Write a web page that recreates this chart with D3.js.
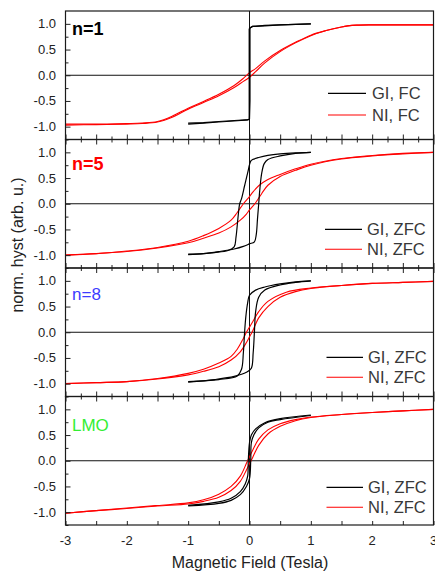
<!DOCTYPE html>
<html><head><meta charset="utf-8">
<script src="https://cdn.jsdelivr.net/npm/d3@7"></script>
<style>body{margin:0;background:#fff}svg{display:block}</style>
</head><body>
<svg id="c" width="435" height="575"></svg>
<script>
// ---------- data ----------
const panelLabels = ["n=1", "n=5", "n=8", "LMO"];
const legendGI = ["GI, FC", "GI, ZFC", "GI, ZFC", "GI, ZFC"];
const legendNI = ["NI, FC", "NI, ZFC", "NI, ZFC", "NI, ZFC"];
const yTickValues = [-1, -0.5, 0, 0.5, 1];
const xTickValues = [-3, -2, -1, 0, 1, 2, 3];
const xLabel = "Magnetic Field (Tesla)";
const yLabel = "norm. hyst (arb. u.)";

// n=1
const gi1Down = [[1,1.0],[0.75,0.99],[0.5,0.98],[0.25,0.96],[0.05,0.95],[0.02,0.93],[-0.005,0.9],[-0.005,-0.86],[-0.05,-0.87],[-0.25,-0.88],[-0.5,-0.9],[-0.75,-0.92],[-1,-0.93]];
const gi1Up = [[-1,-0.95],[-0.75,-0.93],[-0.5,-0.91],[-0.25,-0.89],[-0.03,-0.87],[0.0,-0.85],[0.008,-0.5],[0.008,0.92],[0.05,0.95],[0.25,0.97],[0.5,0.98],[0.75,0.99],[1,1.0]];
const ni1Down = [[3,0.98],[2.5,0.98],[2,0.98],[1.75,0.975],[1.6,0.96],[1.5,0.94],[1.25,0.87],[1,0.78],[0.75,0.64],[0.5,0.48],[0.25,0.28],[0.1,0.13],[0,0.05],[-0.1,-0.06],[-0.25,-0.2],[-0.5,-0.37],[-0.75,-0.51],[-1,-0.64],[-1.25,-0.79],[-1.5,-0.9],[-1.75,-0.93],[-2,-0.94],[-2.5,-0.95],[-3,-0.95]];
const ni1Up = [[-3,-0.97],[-2.5,-0.96],[-2,-0.95],[-1.75,-0.94],[-1.5,-0.91],[-1.25,-0.81],[-1,-0.66],[-0.75,-0.53],[-0.5,-0.4],[-0.25,-0.24],[-0.1,-0.12],[0,-0.04],[0.1,0.07],[0.25,0.24],[0.5,0.46],[0.75,0.63],[1,0.77],[1.25,0.87],[1.5,0.94],[1.6,0.96],[1.75,0.975],[2,0.98],[2.5,0.98],[3,0.98]];

// n=5
const gi5Down = [[1,1.0],[0.75,0.99],[0.5,0.97],[0.3,0.94],[0.15,0.9],[0.05,0.86],[0.02,0.83],[-0.03,0.6],[-0.08,0.35],[-0.13,0.1],[-0.16,0],[-0.19,-0.3],[-0.22,-0.65],[-0.25,-0.84],[-0.35,-0.91],[-0.57,-0.95],[-0.75,-0.97],[-1,-0.98]];
const gi5Up = [[-1,-0.99],[-0.75,-0.97],[-0.5,-0.93],[-0.25,-0.88],[-0.1,-0.83],[0,-0.78],[0.08,-0.74],[0.11,-0.6],[0.13,-0.3],[0.15,0],[0.17,0.3],[0.2,0.6],[0.24,0.78],[0.3,0.86],[0.5,0.93],[0.75,0.98],[1,1.0]];
const ni5Down = [[3,1.0],[2.5,0.98],[2,0.94],[1.5,0.88],[1,0.77],[0.75,0.68],[0.5,0.57],[0.3,0.47],[0.15,0.35],[0.05,0.22],[0,0.14],[-0.1,0.0],[-0.2,-0.17],[-0.3,-0.32],[-0.5,-0.48],[-0.75,-0.62],[-1,-0.73],[-1.5,-0.85],[-2,-0.92],[-2.5,-0.97],[-3,-1.0]];
const ni5Up = [[-3,-1.0],[-2.5,-0.97],[-2,-0.93],[-1.5,-0.86],[-1,-0.76],[-0.75,-0.67],[-0.5,-0.57],[-0.3,-0.45],[-0.15,-0.32],[-0.05,-0.2],[0,-0.12],[0.1,0.02],[0.2,0.2],[0.3,0.36],[0.5,0.53],[0.75,0.65],[1,0.75],[1.5,0.87],[2,0.93],[2.5,0.97],[3,1.0]];

// n=8
const gi8Down = [[1,1.0],[0.75,0.98],[0.5,0.94],[0.25,0.88],[0.1,0.82],[0,0.72],[-0.03,0.57],[-0.06,0.3],[-0.08,0],[-0.1,-0.4],[-0.13,-0.72],[-0.2,-0.85],[-0.5,-0.92],[-1,-0.96]];
const gi8Up = [[-1,-0.97],[-0.57,-0.92],[-0.25,-0.86],[-0.05,-0.78],[0.03,-0.7],[0.06,-0.4],[0.08,0],[0.1,0.4],[0.15,0.68],[0.25,0.82],[0.5,0.92],[0.75,0.97],[1,1.0]];
const ni8Down = [[3,0.99],[2.5,0.97],[2,0.95],[1.5,0.91],[1,0.86],[0.6,0.78],[0.3,0.6],[0.15,0.4],[0.05,0.2],[0,0.1],[-0.05,0],[-0.1,-0.12],[-0.2,-0.33],[-0.3,-0.47],[-0.5,-0.6],[-0.75,-0.72],[-1,-0.8],[-1.5,-0.9],[-2,-0.96],[-2.5,-0.98],[-3,-1.0]];
const ni8Up = [[-3,-1.0],[-2.5,-0.98],[-2,-0.96],[-1.5,-0.91],[-1,-0.83],[-0.75,-0.76],[-0.5,-0.67],[-0.3,-0.54],[-0.15,-0.38],[-0.05,-0.2],[0,-0.09],[0.05,0.02],[0.15,0.28],[0.3,0.5],[0.5,0.68],[0.75,0.79],[1,0.85],[1.5,0.91],[2,0.95],[2.5,0.97],[3,0.99]];

// LMO
const giLDown = [[1,0.89],[0.5,0.82],[0.25,0.74],[0.1,0.62],[0.03,0.5],[0,0.35],[-0.02,0],[-0.03,-0.3],[-0.07,-0.45],[-0.15,-0.6],[-0.3,-0.73],[-0.5,-0.8],[-1,-0.87]];
const giLUp = [[-1,-0.88],[-0.5,-0.83],[-0.3,-0.77],[-0.15,-0.66],[-0.05,-0.5],[0,-0.35],[0.02,0],[0.03,0.35],[0.07,0.5],[0.15,0.64],[0.3,0.75],[0.5,0.8],[1,0.88]];
const niLDown = [[3,1.0],[2.5,0.97],[2,0.94],[1.5,0.9],[1,0.85],[0.75,0.8],[0.5,0.72],[0.3,0.6],[0.15,0.42],[0.05,0.2],[0,0.08],[-0.05,-0.05],[-0.15,-0.3],[-0.3,-0.5],[-0.5,-0.65],[-0.75,-0.76],[-1,-0.82],[-1.5,-0.87],[-2,-0.92],[-2.5,-0.97],[-3,-1.02]];
const niLUp = [[-3,-1.02],[-2.5,-0.97],[-2,-0.93],[-1.5,-0.88],[-1,-0.84],[-0.75,-0.79],[-0.5,-0.71],[-0.3,-0.58],[-0.15,-0.4],[-0.05,-0.18],[0,-0.06],[0.05,0.06],[0.15,0.3],[0.3,0.52],[0.5,0.67],[0.75,0.78],[1,0.84],[1.5,0.9],[2,0.94],[2.5,0.97],[3,1.0]];

const giSeries = [[gi1Down, gi1Up], [gi5Down, gi5Up], [gi8Down, gi8Up], [giLDown, giLUp]];
const niSeries = [[ni1Down, ni1Up], [ni5Down, ni5Up], [ni8Down, ni8Up], [niLDown, niLUp]];

// ---------- layout ----------
const svg = d3.select("#c");
const left = 65.5, right = 433.5, top0 = 11, ph = 128.5;
const labelStyles = [
  {color: "#000", weight: "bold", size: 18, y: 35},
  {color: "#ff0000", weight: "bold", size: 18, y: 170},
  {color: "#3c3cff", weight: "normal", size: 17, y: 299.5},
  {color: "#33ee33", weight: "normal", size: 17, y: 431}
];
const legendPos = [
  {x1: 328, x2: 366, tx: 372, y1: 93.3, y2: 115},
  {x1: 325, x2: 362, tx: 367, y1: 229.3, y2: 249.3},
  {x1: 326.5, x2: 363, tx: 368, y1: 357.3, y2: 377.3},
  {x1: 326.5, x2: 363, tx: 368, y1: 487.3, y2: 507.3}
];
const x = d3.scaleLinear().domain([-3, 3]).range([left, right]);
const font = "Liberation Sans, Arial, sans-serif";

svg.append("defs").append("clipPath").attr("id", "clipAll")
  .append("rect").attr("x", left).attr("y", top0).attr("width", right - left).attr("height", ph * 4);

panelLabels.forEach((lab, i) => {
  const t = top0 + i * ph, b = t + ph;
  const y = d3.scaleLinear().domain([-1.25, 1.25]).range([b, t]);
  const g = svg.append("g");

  // zero lines
  g.append("line").attr("x1", left).attr("x2", right).attr("y1", y(0)).attr("y2", y(0))
    .attr("stroke", "#111").attr("stroke-width", 1);
  g.append("line").attr("x1", x(0)).attr("x2", x(0)).attr("y1", t).attr("y2", b)
    .attr("stroke", "#111").attr("stroke-width", 1);

  // curves
  const line = d3.line().x(d => x(d[0])).y(d => y(d[1]))
    .curve(i === 0 ? d3.curveLinear : d3.curveCatmullRom.alpha(0.5));
  const lineR = d3.line().x(d => x(d[0])).y(d => y(d[1])).curve(d3.curveCatmullRom.alpha(0.5));
  const cg = g.append("g").attr("clip-path", "url(#clipAll)");
  niSeries[i].forEach(s => cg.append("path").attr("d", lineR(s)).attr("fill", "none")
    .attr("stroke", "#ff0000").attr("stroke-width", 1.1));
  giSeries[i].forEach(s => cg.append("path").attr("d", line(s)).attr("fill", "none")
    .attr("stroke", "#000").attr("stroke-width", 1.2));

  // left axis
  const yAx = d3.axisRight(y).tickValues(yTickValues).tickSize(5).tickFormat("");
  const yg = g.append("g").attr("transform", `translate(${left},0)`).call(yAx);
  yg.select(".domain").remove();
  yg.selectAll("line").attr("stroke", "#222");
  const yMinor = d3.axisRight(y).tickValues([-1.25, -0.75, -0.25, 0.25, 0.75]).tickSize(3).tickFormat("");
  const ymg = g.append("g").attr("transform", `translate(${left},0)`).call(yMinor);
  ymg.select(".domain").remove();
  ymg.selectAll("line").attr("stroke", "#222");
  g.selectAll(null).data(yTickValues).enter().append("text")
    .attr("x", 56).attr("y", d => y(d) + 4.5).attr("text-anchor", "end")
    .attr("font-family", font).attr("font-size", 13).attr("fill", "#222")
    .text(d => d3.format(".1f")(d).replace("−", "-"));

  // bottom ticks (inward)
  const majX = d3.range(-3, 3.01, 0.5);
  const minX = d3.range(-2.75, 3, 0.5);
  const bAx = d3.axisTop(x).tickValues(majX).tickSize(i === 3 ? 4 : 5).tickFormat("");
  const bg = g.append("g").attr("transform", `translate(0,${b})`).call(bAx);
  bg.select(".domain").remove();
  bg.selectAll("line").attr("stroke", "#222");
  if (i < 3) {
    const bm = d3.axisTop(x).tickValues(minX).tickSize(3).tickFormat("");
    const bmg = g.append("g").attr("transform", `translate(0,${b})`).call(bm);
    bmg.select(".domain").remove();
    bmg.selectAll("line").attr("stroke", "#222");
  }
  if (i > 0) {
    const tAx = d3.axisBottom(x).tickValues(majX).tickSize(5).tickFormat("");
    const tg = g.append("g").attr("transform", `translate(0,${t})`).call(tAx);
    tg.select(".domain").remove();
    tg.selectAll("line").attr("stroke", "#222");
    const tm = d3.axisBottom(x).tickValues(minX).tickSize(3).tickFormat("");
    const tmg = g.append("g").attr("transform", `translate(0,${t})`).call(tm);
    tmg.select(".domain").remove();
    tmg.selectAll("line").attr("stroke", "#222");
  }

  // frame
  g.append("rect").attr("x", left).attr("y", t).attr("width", right - left).attr("height", ph)
    .attr("fill", "none").attr("stroke", "#1a1a1a").attr("stroke-width", 1.2);

  // panel label
  const ls = labelStyles[i];
  g.append("text").attr("x", 72).attr("y", ls.y).attr("font-family", font)
    .attr("font-size", ls.size).attr("font-weight", ls.weight).attr("fill", ls.color).text(lab);

  // legend
  const lp = legendPos[i];
  g.append("line").attr("x1", lp.x1).attr("x2", lp.x2).attr("y1", lp.y1).attr("y2", lp.y1)
    .attr("stroke", "#000").attr("stroke-width", 1.2);
  g.append("line").attr("x1", lp.x1).attr("x2", lp.x2).attr("y1", lp.y2).attr("y2", lp.y2)
    .attr("stroke", "#ff0000").attr("stroke-width", 1.1);
  g.append("text").attr("x", lp.tx).attr("y", lp.y1 + 6).attr("font-family", font)
    .attr("font-size", 16.5).attr("fill", "#383838").text(legendGI[i]);
  g.append("text").attr("x", lp.tx).attr("y", lp.y2 + 6).attr("font-family", font)
    .attr("font-size", 16.5).attr("fill", "#383838").text(legendNI[i]);
});

// x tick labels
svg.selectAll(null).data(xTickValues).enter().append("text")
  .attr("x", d => x(d)).attr("y", 545).attr("text-anchor", "middle")
  .attr("font-family", font).attr("font-size", 13).attr("fill", "#222")
  .text(d => String(d));

// axis titles
svg.append("text").attr("x", 250).attr("y", 568).attr("text-anchor", "middle")
  .attr("font-family", font).attr("font-size", 16).attr("fill", "#222").text(xLabel);
svg.append("text").attr("transform", "translate(23,245) rotate(-90)").attr("text-anchor", "middle")
  .attr("font-family", font).attr("font-size", 16).attr("fill", "#222").text(yLabel);
</script>
</body></html>
